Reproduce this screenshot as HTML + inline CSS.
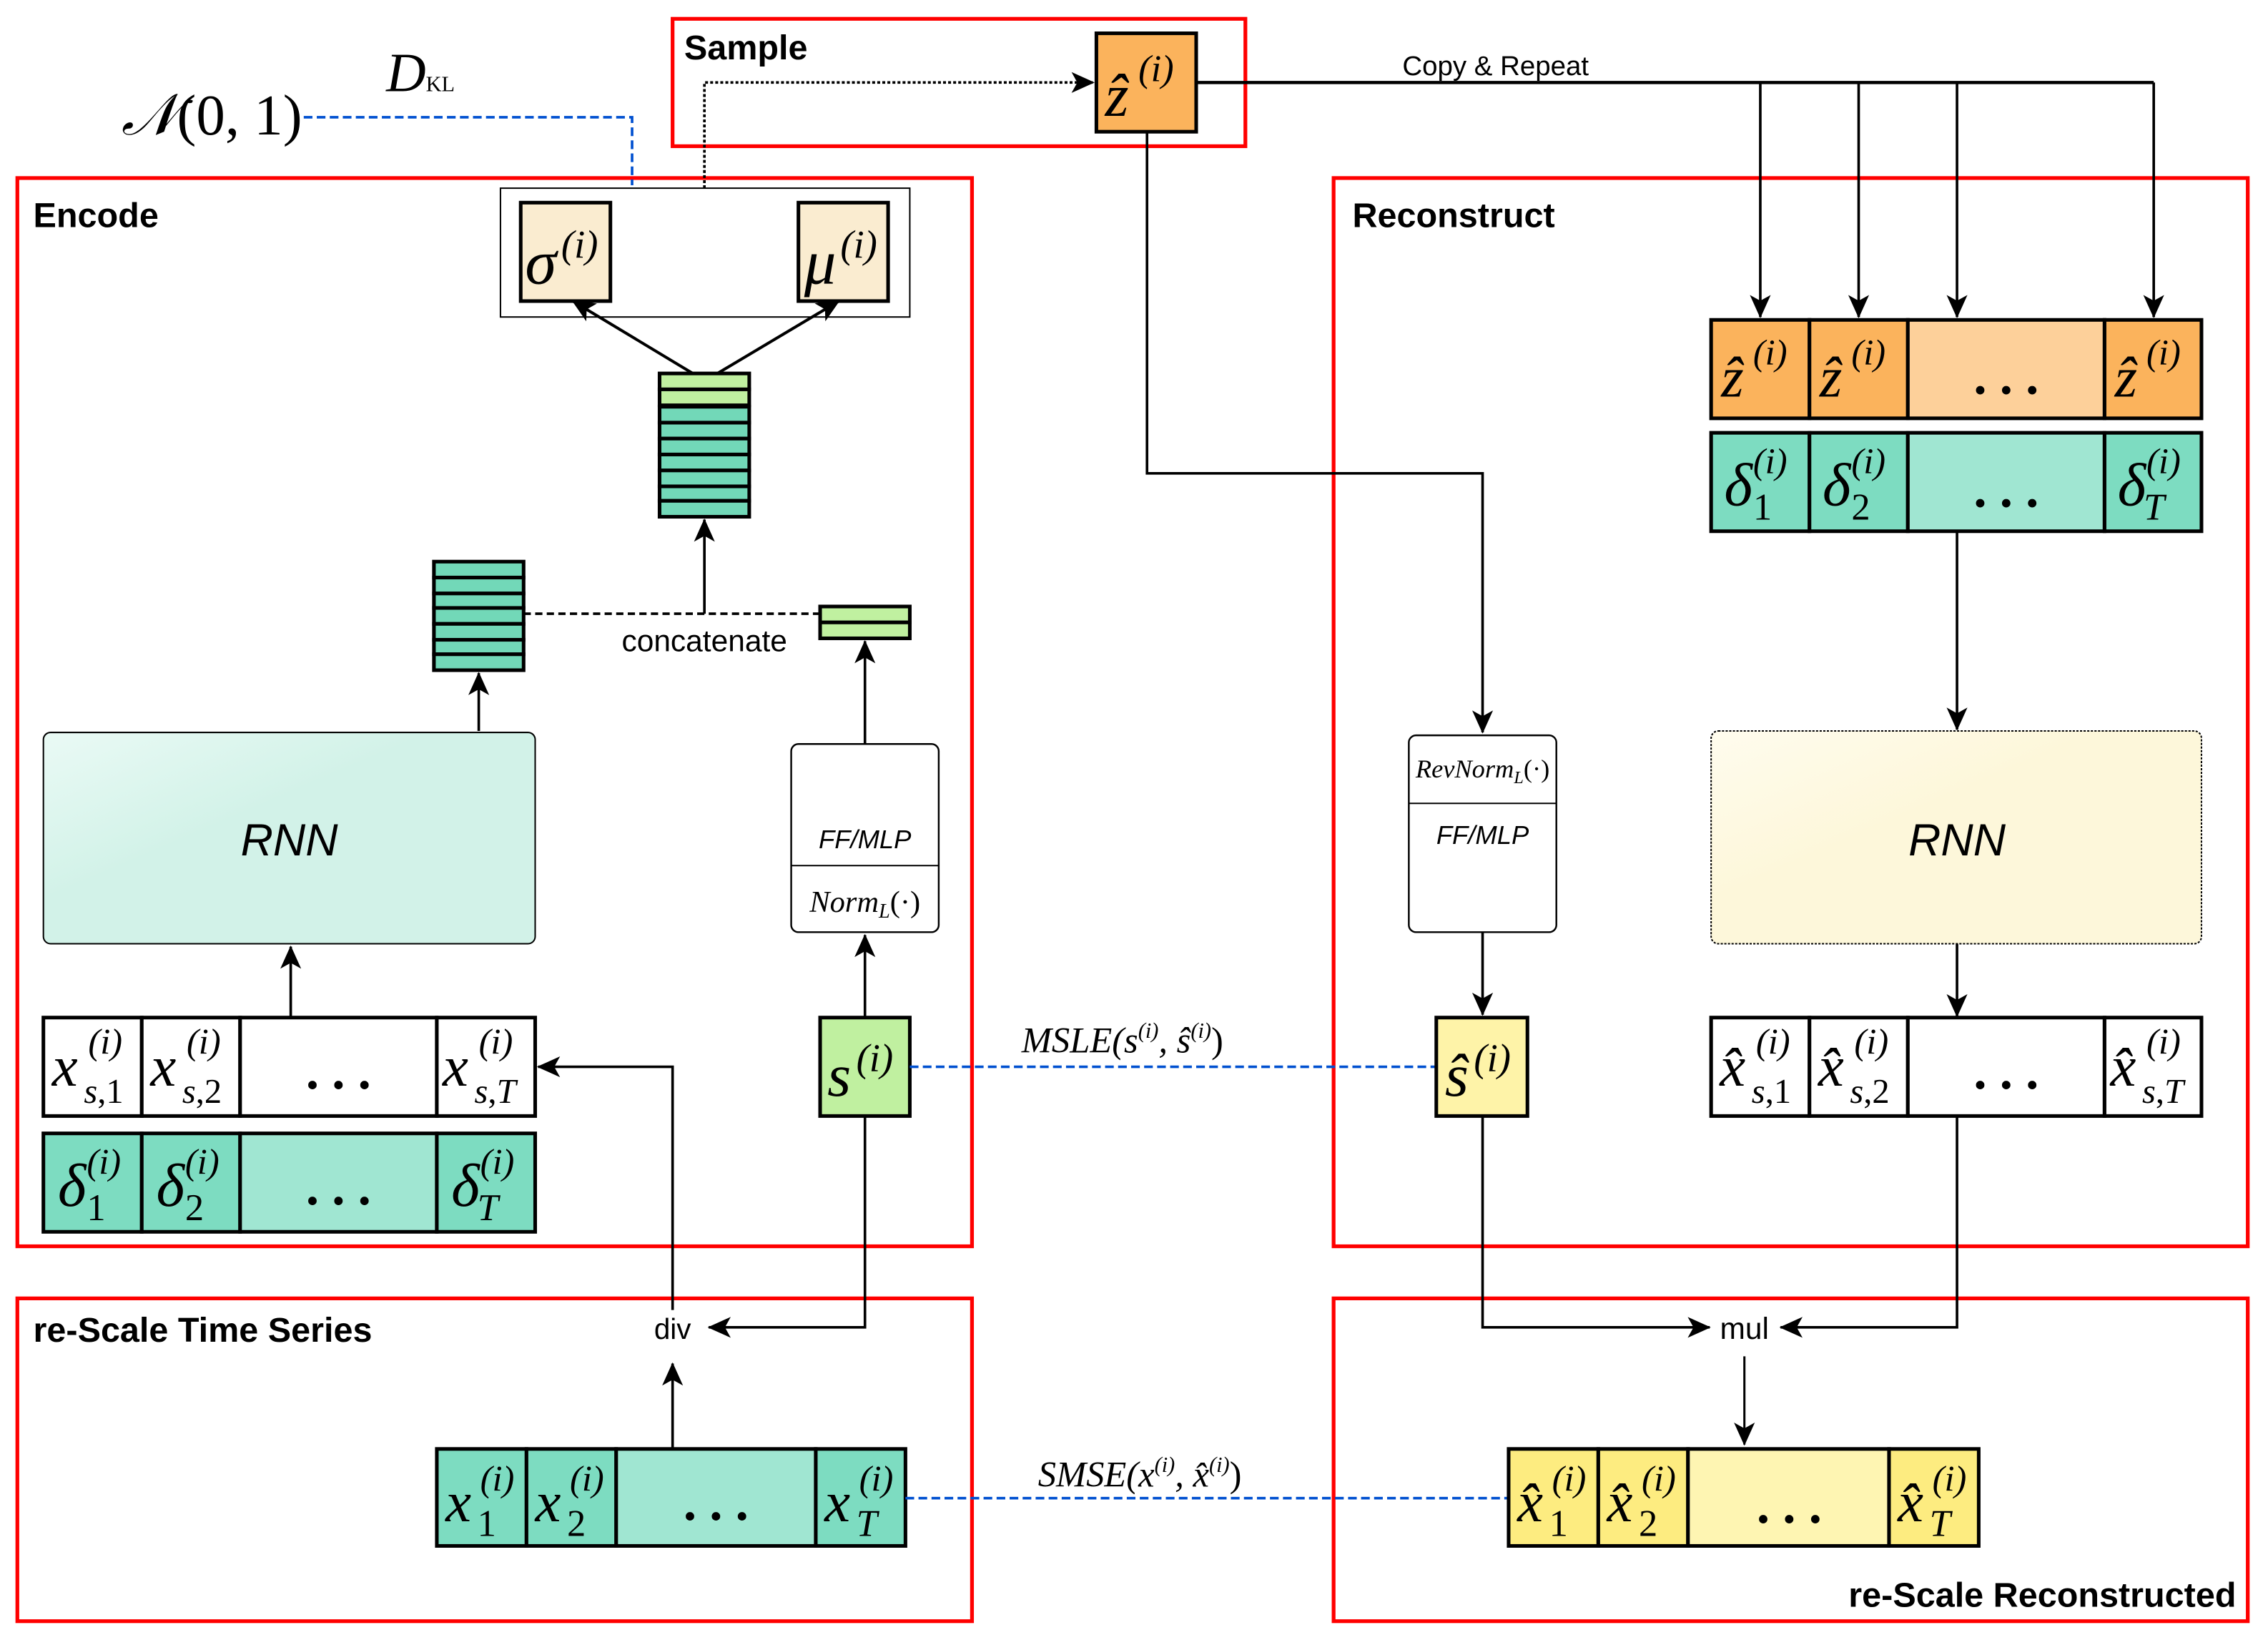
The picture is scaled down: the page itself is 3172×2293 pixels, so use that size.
<!DOCTYPE html>
<html><head><meta charset="utf-8"><style>
html,body{margin:0;padding:0;background:#fff;}
svg{display:block;}
.t{font-family:"Liberation Sans",sans-serif;}
.b{font-family:"Liberation Sans",sans-serif;font-weight:bold;}
.m{font-family:"Liberation Serif","DejaVu Serif",serif;font-style:italic;}
.n{font-style:normal;}
.cell{stroke:#000;stroke-width:2.5;}
.d{font-family:"Liberation Serif",serif;font-weight:bold;}
</style></head><body>
<svg width="3172" height="2293" viewBox="0 0 1568 1133" preserveAspectRatio="none" xmlns="http://www.w3.org/2000/svg">
<defs>
<marker id="a" viewBox="0 0 20 20" refX="19" refY="10" markerWidth="16" markerHeight="16" markerUnits="userSpaceOnUse" orient="auto">
<path d="M0,1 L20,10 L0,19 L5,10 Z" fill="#000"/></marker>
<linearGradient id="g1" x1="0" y1="0" x2="1" y2="1"><stop offset="0" stop-color="#eafaf5"/><stop offset="0.4" stop-color="#d2f2e8"/><stop offset="1" stop-color="#d2f2e8"/></linearGradient>
<linearGradient id="g2" x1="0" y1="0" x2="1" y2="1"><stop offset="0" stop-color="#fffcee"/><stop offset="0.4" stop-color="#fdf7da"/><stop offset="1" stop-color="#fdf7da"/></linearGradient>
</defs>

<g fill="none" stroke="#f00" stroke-width="2.6">
<rect x="465" y="13" width="396" height="88"/>
<rect x="12" y="123" width="660" height="738"/>
<rect x="922" y="123" width="632" height="738"/>
<rect x="12" y="897" width="660" height="223"/>
<rect x="922" y="897" width="632" height="223"/>
</g>
<text class="b" x="473" y="41" font-size="24">Sample</text>
<text class="b" x="23" y="157" font-size="24">Encode</text>
<text class="b" x="935" y="157" font-size="24">Reconstruct</text>
<text class="b" x="23" y="927" font-size="24">re-Scale Time Series</text>
<text class="b" x="1546" y="1110" font-size="24" text-anchor="end">re-Scale Reconstructed</text>

<text x="84" y="93" font-family="Liberation Serif,serif" font-size="40"><tspan font-style="italic" font-family="DejaVu Serif,serif">𝒩</tspan>(0, 1)</text>
<text x="267" y="63" class="m" font-size="38">D<tspan class="n" font-size="15">KL</tspan></text>
<path d="M210,81 H437 V128" fill="none" stroke="#0050d0" stroke-width="1.8" stroke-dasharray="6,3"/>

<path d="M487,130 V57 H756" fill="none" stroke="#000" stroke-width="1.8" stroke-dasharray="2,1.5" marker-end="url(#a)"/>
<rect x="758" y="23" width="69" height="68" fill="#fbb35c" class="cell"/>
<text class="m" x="764" y="80" font-size="42">z&#770;</text><text class="m" x="787" y="56" font-size="26">(i)</text>

<text class="t" x="1034" y="52" font-size="19" text-anchor="middle">Copy &amp; Repeat</text>
<path d="M827,57 H1489" stroke="#000" stroke-width="2.2" fill="none"/>
<g stroke="#000" stroke-width="1.8" fill="none" marker-end="url(#a)">
<path d="M1217,57 V219"/><path d="M1285,57 V219"/><path d="M1353,57 V219"/><path d="M1489,57 V219"/>
</g>
<path d="M793,91 V327 H1025 V506" stroke="#000" stroke-width="1.8" fill="none" marker-end="url(#a)"/>

<rect x="346" y="130" width="283" height="89" fill="#fff" stroke="#000" stroke-width="1"/>
<rect x="360" y="140" width="62" height="68" fill="#faecd0" class="cell"/>
<rect x="552" y="140" width="62" height="68" fill="#faecd0" class="cell"/>
<text class="m" x="363" y="196" font-size="44">σ</text><text class="m" x="388" y="178" font-size="27">(i)</text>
<text class="m" x="556" y="196" font-size="44">μ</text><text class="m" x="581" y="178" font-size="27">(i)</text>
<g stroke="#000" stroke-width="2" fill="none" marker-end="url(#a)">
<path d="M479,258 L396,208"/><path d="M496,258 L580,208"/>
</g>

<g class="cell" stroke-width="2">
<rect x="456" y="258" width="62" height="11" fill="#c0f0a0"/>
<rect x="456" y="269" width="62" height="11" fill="#c0f0a0"/>
<rect x="456" y="281" width="62" height="11" fill="#72d8b8"/>
<rect x="456" y="292" width="62" height="11" fill="#72d8b8"/>
<rect x="456" y="303" width="62" height="11" fill="#72d8b8"/>
<rect x="456" y="314" width="62" height="11" fill="#72d8b8"/>
<rect x="456" y="325" width="62" height="11" fill="#72d8b8"/>
<rect x="456" y="336" width="62" height="10" fill="#72d8b8"/>
<rect x="456" y="346" width="62" height="11" fill="#72d8b8"/>
</g>
<path d="M487,424 V359" stroke="#000" stroke-width="1.8" marker-end="url(#a)"/>
<g class="cell" stroke-width="2" fill="#72d8b8">
<rect x="300" y="388" width="62" height="11"/><rect x="300" y="399" width="62" height="11"/>
<rect x="300" y="410" width="62" height="10"/><rect x="300" y="420" width="62" height="11"/>
<rect x="300" y="431" width="62" height="11"/><rect x="300" y="442" width="62" height="10"/>
<rect x="300" y="452" width="62" height="11"/>
</g>
<rect x="567" y="419" width="62" height="11" fill="#c0f0a0" class="cell" stroke-width="2"/>
<rect x="567" y="430" width="62" height="11" fill="#c0f0a0" class="cell" stroke-width="2"/>
<path d="M362,424 H567" stroke="#000" stroke-width="1.8" stroke-dasharray="5,3"/>
<text class="t" x="487" y="450" font-size="21" text-anchor="middle">concatenate</text>
<path d="M331,505 V465" stroke="#000" stroke-width="1.8" marker-end="url(#a)"/>
<path d="M598,514 V443" stroke="#000" stroke-width="1.8" marker-end="url(#a)"/>

<rect x="30" y="506" width="340" height="146" rx="5" fill="url(#g1)" stroke="#000" stroke-width="1"/>
<text class="t" x="200" y="591" font-size="31" font-style="italic" text-anchor="middle">RNN</text>
<rect x="547" y="514" width="102" height="130" rx="5" fill="#fff" stroke="#000" stroke-width="1.2"/>
<path d="M547,598 H649" stroke="#000" stroke-width="1"/>
<text class="t" x="598" y="586" font-size="18" font-style="italic" text-anchor="middle">FF/MLP</text>
<text class="m" x="598" y="630" font-size="21" text-anchor="middle">Norm<tspan font-size="14" dy="4">L</tspan><tspan dy="-4" class="n">(·)</tspan></text>
<path d="M201,703 V654" stroke="#000" stroke-width="1.8" marker-end="url(#a)"/>
<path d="M598,703 V646" stroke="#000" stroke-width="1.8" marker-end="url(#a)"/>

<g class="cell" fill="#fff">
<rect x="30" y="703" width="68" height="68"/><rect x="98" y="703" width="68" height="68"/>
<rect x="166" y="703" width="136" height="68"/><rect x="302" y="703" width="68" height="68"/>
</g>
<g class="m">
<text x="36" y="750" font-size="40">x</text><text x="61" y="728" font-size="25">(i)</text><text x="58" y="762" font-size="24">s<tspan class="n">,1</tspan></text>
<text x="104" y="750" font-size="40">x</text><text x="129" y="728" font-size="25">(i)</text><text x="126" y="762" font-size="24">s<tspan class="n">,2</tspan></text>
<text x="306" y="750" font-size="40">x</text><text x="331" y="728" font-size="25">(i)</text><text x="328" y="762" font-size="24">s<tspan class="n">,</tspan>T</text>
</g>
<text class="d" x="234" y="752" font-size="36" text-anchor="middle">. . .</text>
<g class="cell">
<rect x="30" y="783" width="68" height="68" fill="#7ddcc1"/><rect x="98" y="783" width="68" height="68" fill="#7ddcc1"/>
<rect x="166" y="783" width="136" height="68" fill="#a0e6d2"/><rect x="302" y="783" width="68" height="68" fill="#7ddcc1"/>
</g>
<g class="m">
<text x="40" y="833" font-size="42">δ</text><text x="60" y="811" font-size="25">(i)</text><text x="60" y="843" font-size="26" class="n">1</text>
<text x="108" y="833" font-size="42">δ</text><text x="128" y="811" font-size="25">(i)</text><text x="128" y="843" font-size="26" class="n">2</text>
<text x="312" y="833" font-size="42">δ</text><text x="332" y="811" font-size="25">(i)</text><text x="330" y="843" font-size="26">T</text>
</g>
<text class="d" x="234" y="832" font-size="36" text-anchor="middle">. . .</text>

<rect x="567" y="703" width="62" height="68" fill="#c0f0a0" class="cell"/>
<text class="m" x="572" y="757" font-size="42">s</text><text class="m" x="592" y="740" font-size="27">(i)</text>
<path d="M629,737 H993" stroke="#0050d0" stroke-width="1.8" stroke-dasharray="6,3"/>
<text class="m" x="776" y="727" font-size="25" text-anchor="middle">MSLE(s<tspan font-size="15" dy="-10">(i)</tspan><tspan dy="10">, s&#770;</tspan><tspan font-size="15" dy="-10">(i)</tspan><tspan dy="10" class="n">)</tspan></text>
<path d="M598,771 V917 H490" stroke="#000" stroke-width="1.8" fill="none" marker-end="url(#a)"/>
<text class="t" x="465" y="925" font-size="20" text-anchor="middle">div</text>
<path d="M465,905 V737 H372" stroke="#000" stroke-width="1.8" fill="none" marker-end="url(#a)"/>
<path d="M465,1000 V942" stroke="#000" stroke-width="1.8" marker-end="url(#a)"/>

<g class="cell">
<rect x="302" y="1001" width="62" height="67" fill="#7ddcc1"/><rect x="364" y="1001" width="62" height="67" fill="#7ddcc1"/>
<rect x="426" y="1001" width="138" height="67" fill="#a0e6d2"/><rect x="564" y="1001" width="62" height="67" fill="#7ddcc1"/>
</g>
<g class="m">
<text x="308" y="1051" font-size="40">x</text><text x="332" y="1030" font-size="25">(i)</text><text x="330" y="1061" font-size="26" class="n">1</text>
<text x="370" y="1051" font-size="40">x</text><text x="394" y="1030" font-size="25">(i)</text><text x="392" y="1061" font-size="26" class="n">2</text>
<text x="570" y="1051" font-size="40">x</text><text x="594" y="1030" font-size="25">(i)</text><text x="592" y="1061" font-size="26">T</text>
</g>
<text class="d" x="495" y="1050" font-size="36" text-anchor="middle">. . .</text>
<path d="M626,1035 H1043" stroke="#0050d0" stroke-width="1.8" stroke-dasharray="6,3"/>
<text class="m" x="788" y="1027" font-size="25" text-anchor="middle">SMSE(x<tspan font-size="15" dy="-10">(i)</tspan><tspan dy="10">, x&#770;</tspan><tspan font-size="15" dy="-10">(i)</tspan><tspan dy="10" class="n">)</tspan></text>

<g class="cell">
<rect x="1043" y="1001" width="62" height="67" fill="#fdec80"/><rect x="1105" y="1001" width="62" height="67" fill="#fdec80"/>
<rect x="1167" y="1001" width="139" height="67" fill="#fef5b2"/><rect x="1306" y="1001" width="62" height="67" fill="#fdec80"/>
</g>
<g class="m">
<text x="1049" y="1051" font-size="40">x&#770;</text><text x="1073" y="1030" font-size="25">(i)</text><text x="1071" y="1061" font-size="26" class="n">1</text>
<text x="1111" y="1051" font-size="40">x&#770;</text><text x="1135" y="1030" font-size="25">(i)</text><text x="1133" y="1061" font-size="26" class="n">2</text>
<text x="1312" y="1051" font-size="40">x&#770;</text><text x="1336" y="1030" font-size="25">(i)</text><text x="1334" y="1061" font-size="26">T</text>
</g>
<text class="d" x="1237" y="1052" font-size="36" text-anchor="middle">. . .</text>

<text class="t" x="1206" y="925" font-size="21" text-anchor="middle">mul</text>
<path d="M1025,771 V917 H1182" stroke="#000" stroke-width="1.8" fill="none" marker-end="url(#a)"/>
<path d="M1353,771 V917 H1231" stroke="#000" stroke-width="1.8" fill="none" marker-end="url(#a)"/>
<path d="M1206,937 V998" stroke="#000" stroke-width="1.5" marker-end="url(#a)"/>

<rect x="993" y="703" width="63" height="68" fill="#fef3a8" class="cell"/>
<text class="m" x="999" y="757" font-size="42">s&#770;</text><text class="m" x="1019" y="740" font-size="27">(i)</text>

<rect x="974" y="508" width="102" height="136" rx="5" fill="#fff" stroke="#000" stroke-width="1.2"/>
<path d="M974,555 H1076" stroke="#000" stroke-width="1"/>
<text class="m" x="1025" y="537" font-size="18" text-anchor="middle">RevNorm<tspan font-size="12" dy="4">L</tspan><tspan dy="-4" class="n">(·)</tspan></text>
<text class="t" x="1025" y="583" font-size="18" font-style="italic" text-anchor="middle">FF/MLP</text>
<path d="M1025,644 V701" stroke="#000" stroke-width="1.8" marker-end="url(#a)"/>

<g class="cell">
<rect x="1183" y="221" width="68" height="68" fill="#fbb35c"/><rect x="1251" y="221" width="68" height="68" fill="#fbb35c"/>
<rect x="1319" y="221" width="136" height="68" fill="#fdd09a"/><rect x="1455" y="221" width="67" height="68" fill="#fbb35c"/>
</g>
<g class="m">
<text x="1190" y="274" font-size="40">z&#770;</text><text x="1212" y="252" font-size="25">(i)</text>
<text x="1258" y="274" font-size="40">z&#770;</text><text x="1280" y="252" font-size="25">(i)</text>
<text x="1462" y="274" font-size="40">z&#770;</text><text x="1484" y="252" font-size="25">(i)</text>
</g>
<text class="d" x="1387" y="272" font-size="36" text-anchor="middle">. . .</text>
<g class="cell">
<rect x="1183" y="299" width="68" height="68" fill="#7ddcc1"/><rect x="1251" y="299" width="68" height="68" fill="#7ddcc1"/>
<rect x="1319" y="299" width="136" height="68" fill="#a0e6d2"/><rect x="1455" y="299" width="67" height="68" fill="#7ddcc1"/>
</g>
<g class="m">
<text x="1192" y="349" font-size="42">δ</text><text x="1212" y="327" font-size="25">(i)</text><text x="1212" y="359" font-size="26" class="n">1</text>
<text x="1260" y="349" font-size="42">δ</text><text x="1280" y="327" font-size="25">(i)</text><text x="1280" y="359" font-size="26" class="n">2</text>
<text x="1464" y="349" font-size="42">δ</text><text x="1484" y="327" font-size="25">(i)</text><text x="1482" y="359" font-size="26">T</text>
</g>
<text class="d" x="1387" y="350" font-size="36" text-anchor="middle">. . .</text>
<path d="M1353,367 V504" stroke="#000" stroke-width="1.8" marker-end="url(#a)"/>

<rect x="1183" y="505" width="339" height="147" rx="5" fill="url(#g2)" stroke="#000" stroke-width="1" stroke-dasharray="1.5,1"/>
<text class="t" x="1353" y="591" font-size="31" font-style="italic" text-anchor="middle">RNN</text>
<path d="M1353,652 V702" stroke="#000" stroke-width="1.8" marker-end="url(#a)"/>

<g class="cell" fill="#fff">
<rect x="1183" y="703" width="68" height="68"/><rect x="1251" y="703" width="68" height="68"/>
<rect x="1319" y="703" width="136" height="68"/><rect x="1455" y="703" width="67" height="68"/>
</g>
<g class="m">
<text x="1189" y="750" font-size="40">x&#770;</text><text x="1214" y="728" font-size="25">(i)</text><text x="1211" y="762" font-size="24">s<tspan class="n">,1</tspan></text>
<text x="1257" y="750" font-size="40">x&#770;</text><text x="1282" y="728" font-size="25">(i)</text><text x="1279" y="762" font-size="24">s<tspan class="n">,2</tspan></text>
<text x="1459" y="750" font-size="40">x&#770;</text><text x="1484" y="728" font-size="25">(i)</text><text x="1481" y="762" font-size="24">s<tspan class="n">,</tspan>T</text>
</g>
<text class="d" x="1387" y="752" font-size="36" text-anchor="middle">. . .</text>
</svg>
</body></html>
